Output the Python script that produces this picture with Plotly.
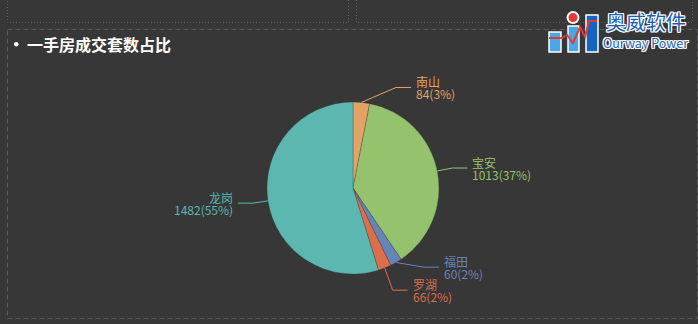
import math
import plotly.graph_objects as go

# ---- data ----
names = ["南山", "宝安", "福田", "罗湖", "龙岗"]
values = [84, 1013, 60, 66, 1482]
colors = ["#e3a365", "#95c36d", "#6784b6", "#dc6e4b", "#5cb7b0"]
title_text = "一手房成交套数占比"
logo_cn = "奥威软件"
logo_en = "Ourway Power"

W, H = 698, 324
BG = "#373737"
cx, cy, r = 353, 188, 86
FONT = "Microsoft YaHei, Noto Sans CJK SC, sans-serif"

fig = go.Figure()

# pie
fig.add_trace(go.Pie(
    labels=names, values=values, sort=False, direction="clockwise", rotation=0,
    marker=dict(colors=colors, line=dict(color=BG, width=0.3)),
    textinfo="none", hoverinfo="label+value+percent", showlegend=False,
    domain=dict(x=[(cx - r) / W, (cx + r) / W], y=[1 - (cy + r) / H, 1 - (cy - r) / H]),
))

# ---- label layout (echarts-like) ----
total = sum(values)
R1 = r + 15
len2 = 15
items = []
cum = 0
for n, v, c in zip(names, values, colors):
    mid = (cum + v / 2) / total * 2 * math.pi
    cum += v
    s, co = math.sin(mid), math.cos(mid)
    items.append(dict(name=n, value=v, color=c, sx=cx + r * s, sy=cy - r * co,
                      by=cy - R1 * co, dir=1 if s >= 0 else -1))

GAP = 23
for side in (1, -1):
    lst = sorted([it for it in items if it["dir"] == side], key=lambda d: d["by"])
    for _ in range(20):
        moved = False
        for a, b in zip(lst, lst[1:]):
            d = b["by"] - a["by"]
            if d < GAP:
                p = (GAP - d) / 2
                a["by"] -= p
                b["by"] += p
                moved = True
        if not moved:
            break

rA, rB = R1, R1 * 1.10
annotations = []
for it in items:
    dy = it["by"] - cy
    dx = rA * math.sqrt(max(0.0, 1 - dy * dy / (rB * rB)))
    bx = cx + it["dir"] * dx
    ex = bx + it["dir"] * len2
    fig.add_trace(go.Scatter(x=[it["sx"], bx, ex], y=[it["sy"], it["by"], it["by"]],
                             mode="lines", line=dict(color=it["color"], width=1),
                             hoverinfo="skip", showlegend=False))
    tx = ex + it["dir"] * 4
    anchor = "left" if it["dir"] > 0 else "right"
    pct = round(it["value"] / total * 100)
    for txt, oy in ((it["name"], -6), (f"{it['value']}({pct}%)", 6)):
        annotations.append(dict(x=tx, y=it["by"] + oy, xref="x", yref="y", text=txt,
                                showarrow=False, xanchor=anchor, yanchor="middle", borderpad=0,
                                align=anchor, font=dict(size=12, color=it["color"], family=FONT)))

# title
annotations.append(dict(x=25, y=43.5, xref="x", yref="y", text=f"<b>{title_text}</b>",
                        showarrow=False, xanchor="left", yanchor="middle",
                        font=dict(size=16, color="#ffffff", family=FONT)))

# logo text with white outline (text shadow)
OUTLINE = "1px 0 0 #fff, -1px 0 0 #fff, 0 1px 0 #fff, 0 -1px 0 #fff, 1px 1px 0 #fff, -1px -1px 0 #fff, 1px -1px 0 #fff, -1px 1px 0 #fff"
annotations.append(dict(x=645.5, y=21.5, xref="x", yref="y", text=logo_cn, showarrow=False,
                        xanchor="center", yanchor="middle", borderpad=0,
                        font=dict(size=20, color="#1a5fb4", family=FONT, shadow=OUTLINE)))
annotations.append(dict(x=645.5, y=42.5, xref="x", yref="y", text=logo_en, showarrow=False,
                        xanchor="center", yanchor="middle", borderpad=0,
                        font=dict(size=12.5, color="#1a5fb4", family=FONT, shadow=OUTLINE)))

shapes = []
# top panels (cut off) - dotted
shapes.append(dict(type="rect", xref="x", yref="y", x0=7.5, y0=-10, x1=348.5, y1=22.5,
                   line=dict(color="#5c5c5c", width=1, dash="1px,2px")))
shapes.append(dict(type="rect", xref="x", yref="y", x0=356.5, y0=-10, x1=692.5, y1=22.5,
                   line=dict(color="#5c5c5c", width=1, dash="1px,2px")))
# main panel - dashed
shapes.append(dict(type="rect", xref="x", yref="y", x0=7.5, y0=29.5, x1=697.5, y1=318.5,
                   line=dict(color="#5a5a5a", width=1, dash="5px,3px")))
# title bullet
shapes.append(dict(type="circle", xref="x", yref="y", x0=14, y0=42, x1=18.5, y1=46.5,
                   fillcolor="#ffffff", line=dict(width=0)))

# logo icon
def bar(x0, y0, x1, y1, col):
    shapes.append(dict(type="rect", xref="x", yref="y", x0=x0, y0=y0, x1=x1, y1=y1,
                       fillcolor=col, line=dict(color="#ffffff", width=1.5)))

bar(549, 32, 561, 52, "#4aa8e6")
bar(568, 26, 579, 52, "#4aa8e6")
bar(586, 15, 598, 52, "#1565c0")
shapes.append(dict(type="path", xref="x", yref="y",
                   path="M 549 38 L 562 38 L 567 35 L 573 43 L 580 27 L 585 37 L 589 21 L 597 21",
                   line=dict(color="#e53935", width=2)))
shapes.append(dict(type="circle", xref="x", yref="y", x0=567.5, y0=12, x1=578.5, y1=23,
                   fillcolor="#e53935", line=dict(color="#ffffff", width=2)))

fig.update_layout(
    width=W, height=H, margin=dict(l=0, r=0, t=0, b=0),
    paper_bgcolor=BG, plot_bgcolor=BG,
    xaxis=dict(range=[0, W], visible=False, fixedrange=True, domain=[0, 1]),
    yaxis=dict(range=[H, 0], visible=False, fixedrange=True, domain=[0, 1]),
    annotations=annotations, shapes=shapes, showlegend=False,
)

fig.write_html("out.html")
